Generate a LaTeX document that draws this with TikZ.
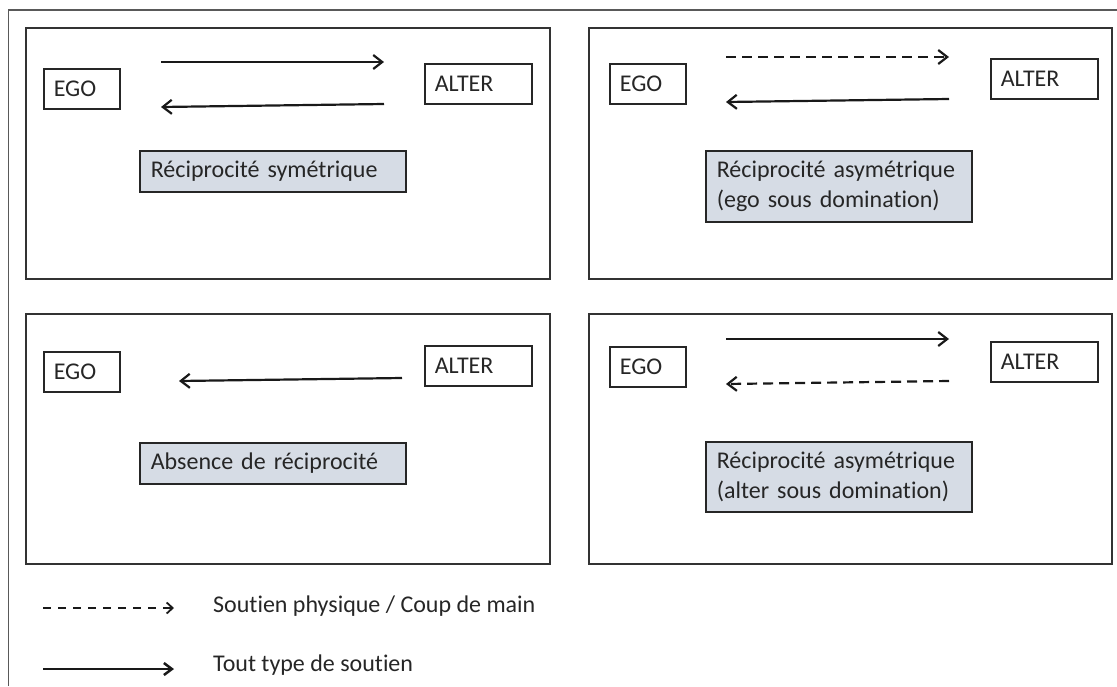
\documentclass[tikz,border=0pt]{standalone}
\usepackage{fontspec}
\setmainfont{Carlito}[Ligatures=NoCommon]
\usetikzlibrary{arrows.meta}
\definecolor{labelfill}{HTML}{D6DCE5}
\definecolor{framegray}{HTML}{595959}
\definecolor{ink}{HTML}{262626}
\begin{document}
\begin{tikzpicture}[x=1pt,y=-1pt,
  panelbox/.style={draw=black!80, line width=1.8pt, anchor=north west, inner sep=0pt},
  actor/.style={draw=black!85, line width=1.6pt, anchor=north west, minimum height=40pt,
    inner xsep=10pt, inner ysep=0pt, align=left, text=ink, font=\fontsize{24}{29}\selectfont},
  lab/.style={draw=black!85, line width=1.6pt, fill=labelfill, anchor=north west,
    inner xsep=11pt, inner ysep=4pt, text width=244pt, align=left, text=ink,
    font=\fontsize{24}{30}\selectfont},
  conn/.style={line width=2.2pt, draw=black!90, -{Straight Barb[length=9pt,width=14pt]}},
  dconn/.style={conn, dash pattern=on 10pt off 6pt},
  legdash/.style={line width=1.8pt, draw=black!90, dash pattern=on 8pt off 7pt,
    -{Straight Barb[length=6pt,width=11pt]}},
  legsolid/.style={line width=2.5pt, draw=black!90, -{Straight Barb[length=8pt,width=12pt]}},
  legtext/.style={anchor=west, inner sep=0pt, text=ink, font=\fontsize{24}{29}\selectfont}
]
\useasboundingbox (0,0) rectangle (1117,686);
% outer frame (partly outside the picture)
\draw[framegray, line width=1.4pt] (8.5,686) -- (8.5,10) -- (1117,10);

% panels
\node[panelbox, minimum width=524pt, minimum height=251pt] (p1) at (25,27) {};
\node[panelbox, minimum width=523pt, minimum height=251pt] (p2) at (588,27) {};
\node[panelbox, minimum width=524pt, minimum height=250pt] (p3) at (25,313) {};
\node[panelbox, minimum width=523pt, minimum height=250pt] (p4) at (588,313) {};

% ---------- panel 1
\node[actor, text width=56pt] (ego1) at (43,68) {EGO};
\node[actor, text width=87pt] (alt1) at (424,63) {ALTER};
\coordinate (a1s) at (161,62);  \coordinate (a1e) at (384,62);
\coordinate (b1s) at (384,104); \coordinate (b1e) at (161,107);
\draw[conn] (a1s) -- (a1e);
\draw[conn] (b1s) -- (b1e);
\node[lab, minimum height=41pt] (l1) at (139,150) {Réciprocité symétrique};

% ---------- panel 2
\node[actor, text width=56pt] (ego2) at (609,63) {EGO};
\node[actor, text width=87pt] (alt2) at (990,58) {ALTER};
\coordinate (a2s) at (726,57);  \coordinate (a2e) at (949,57);
\coordinate (b2s) at (949,99);  \coordinate (b2e) at (726,102);
\draw[dconn] (a2s) -- (a2e);
\draw[conn] (b2s) -- (b2e);
\node[lab, minimum height=71pt] (l2) at (705,150) {Réciprocité asymétrique\\(ego sous domination)};

% ---------- panel 3
\node[actor, text width=56pt] (ego3) at (43,351) {EGO};
\node[actor, text width=87pt] (alt3) at (424,345) {ALTER};
\coordinate (b3s) at (402,378); \coordinate (b3e) at (179,381);
\draw[conn] (b3s) -- (b3e);
\node[lab, minimum height=41pt] (l3) at (139,442) {Absence de réciprocité};

% ---------- panel 4
\node[actor, text width=56pt] (ego4) at (609,346) {EGO};
\node[actor, text width=87pt] (alt4) at (990,341) {ALTER};
\coordinate (a4s) at (726,339); \coordinate (a4e) at (949,339);
\coordinate (b4s) at (949,381); \coordinate (b4e) at (726,384);
\draw[conn] (a4s) -- (a4e);
\draw[dconn] (b4s) -- (b4e);
\node[lab, minimum height=70pt] (l4) at (705,441) {Réciprocité asymétrique\\(alter sous domination)};

% ---------- legend
\coordinate (ld1) at (43,608);  \coordinate (ld2) at (174,608);
\coordinate (ls1) at (43,669);  \coordinate (ls2) at (174,669);
\draw[legdash] (ld1) -- (ld2);
\draw[legsolid] (ls1) -- (ls2);
\node[legtext] (t1) at (213,606) {Soutien physique / Coup de main};
\node[legtext] (t2) at (213,665) {Tout type de soutien};
\end{tikzpicture}
\end{document}
